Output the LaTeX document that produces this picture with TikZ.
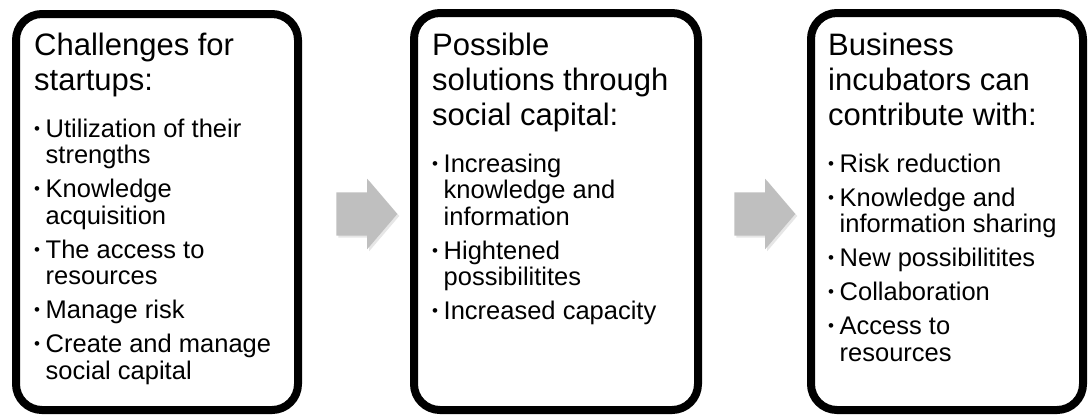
\documentclass[tikz,border=0pt]{standalone}
\usepackage{fontspec}
\usetikzlibrary{shapes.arrows, shadows}
\newfontfamily\slidefont{Liberation Sans}
\newcommand{\headfont}{\fontsize{31}{35}\selectfont\spaceskip=0.278em plus 0.1em\relax}
\newcommand{\itemfont}{\fontsize{25.5}{26.5}\selectfont\spaceskip=0.278em plus 0.1em\relax
  \setlength{\parskip}{7.5pt}}
% one bullet point, with the second line hanging under the text
\newcommand{\bitem}[1]{\par\hangindent=11.5pt\hangafter=1\noindent
  \makebox[11.5pt][l]{\raisebox{3pt}{\fontsize{17}{17}\selectfont\textbullet}}#1}
\tikzset{
  stage box/.style={
    draw, line width=8pt,       % thick black frame
    rounded corners=26pt,
    fill=white, inner sep=0pt,
    drop shadow={opacity=0.18, shadow xshift=2.5pt, shadow yshift=-2.5pt}
  },
  stage text/.style={
    anchor=base west, inner sep=0pt,
    text width=270pt, align=left, font=\slidefont
  },
  step arrow/.style={
    single arrow, fill=black!25, draw=none,
    inner xsep=0pt, inner ysep=21.5pt,   % shaft is 43pt thick
    minimum width=0pt, minimum height=61pt,
    single arrow head extend=13.5pt, single arrow tip angle=99,
    drop shadow={opacity=0.2, shadow xshift=2pt, shadow yshift=-2pt}
  }
}

\begin{document}
\begin{tikzpicture}[x=1pt, y=-1pt]
    \useasboundingbox (0,0) rectangle (1088,416);

    % Three stages
    \node[stage box, minimum width=282pt, minimum height=396pt] (challenges) at (157,212) {};
    \node[stage box, minimum width=284pt, minimum height=397pt] (solutions) at (556,211.5) {};
    \node[stage box, minimum width=272pt, minimum height=397pt] (incubators) at (947,211.5) {};

    % Grey arrows between the stages
    \node[step arrow] (arrow1) at (357.5,214) {};
    \node[step arrow] (arrow2) at (755.5,214) {};

    % Texts
    \node[stage text] (challengestext) at (34,55) {%
      {\headfont Challenges for\newline startups:\par}\vspace{13pt}\itemfont
      \bitem{Utilization of their\newline strengths}
      \bitem{Knowledge\newline acquisition}
      \bitem{The access to\newline resources}
      \bitem{Manage risk}
      \bitem{Create and manage\newline social capital}\par};
    \node[stage text] (solutionstext) at (432,55) {%
      {\headfont Possible\newline solutions through\newline social capital:\par}\vspace{13pt}\itemfont
      \bitem{Increasing\newline knowledge and\newline information}
      \bitem{Hightened\newline possibilitites}
      \bitem{Increased capacity}\par};
    \node[stage text] (incubatorstext) at (828,55) {%
      {\headfont Business\newline incubators can\newline contribute with:\par}\vspace{13pt}\itemfont
      \bitem{Risk reduction}
      \bitem{Knowledge and\newline information sharing}
      \bitem{New possibilitites}
      \bitem{Collaboration}
      \bitem{Access to\newline resources}\par};
\end{tikzpicture}
\end{document}
